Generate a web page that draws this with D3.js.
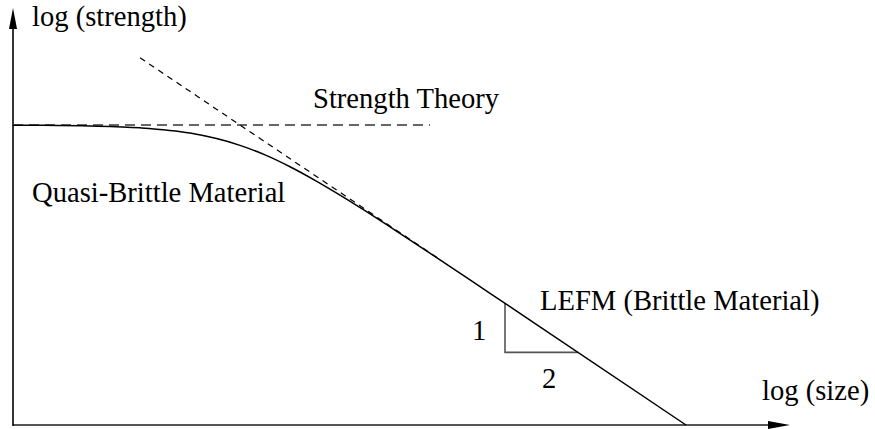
<!DOCTYPE html>
<html>
<head>
<meta charset="utf-8">
<script src="https://cdn.jsdelivr.net/npm/d3@7"></script>
<style>
  html, body { margin: 0; padding: 0; background: #fff; }
  svg { display: block; }
  text { font-family: "Liberation Serif", "Times New Roman", serif; font-size: 28.6px; fill: #000; }
</style>
</head>
<body>
<svg id="chart" width="875" height="429"></svg>
<script>
// Size-effect curve: log(size) vs log(strength)
const logSize     = [-2.27, -2.0, -1.5, -1.0, -0.5, 0.0, 0.25, 0.5, 0.75, 1.0, 1.25, 1.5, 2.0, 2.5, 3.0, 4.46];
const logStrength = [-0.001, -0.002, -0.007, -0.021, -0.060, -0.151, -0.222, -0.310, -0.411, -0.521, -0.637, -0.757, -1.002, -1.251, -1.500, -2.230];

// Strength theory (horizontal) and LEFM asymptote (slope -1/2)
const strengthTheoryX = [-2.27, 1.9];
const strengthTheoryY = [0, 0];
const lefmX = [-1.0, 2.0];
const lefmY = [0.5, -1.0];

// Slope triangle (rise 1, run 2)
const triX = [2.65, 2.65, 3.38];
const triY = [-1.325, -1.69, -1.69];

const labels = [
  { text: "log (strength)",          x: -2.08, y: 0.735 },
  { text: "Strength Theory",         x: 0.73,  y: 0.125 },
  { text: "Quasi-Brittle Material",  x: -2.08, y: -0.575 },
  { text: "LEFM (Brittle Material)", x: 3.00,  y: -1.375 },
  { text: "1",                       x: 2.32,  y: -1.60 },
  { text: "2",                       x: 3.02,  y: -1.955 },
  { text: "log (size)",              x: 5.22,  y: -2.045 }
];

const svg = d3.select("#chart");
const x = d3.scaleLinear().domain([-2.27, 5.52]).range([13, 792]);
const y = d3.scaleLinear().domain([-2.23, 0.87]).range([425, 8]);

const [x0, x1] = x.range();
const [y0, y1] = y.range();

// Axes with arrowheads
svg.append("line")
  .attr("x1", x0).attr("y1", y0).attr("x2", x1 - 22).attr("y2", y0)
  .attr("stroke", "#555").attr("stroke-width", 2);
svg.append("path")
  .attr("d", `M${x1 - 2},${y0} L${x1 - 24},${y0 - 4} L${x1 - 24},${y0 + 4} Z`)
  .attr("fill", "#000");
svg.append("line")
  .attr("x1", x0).attr("y1", y0 + 1).attr("x2", x0).attr("y2", y1 + 20)
  .attr("stroke", "#000").attr("stroke-width", 1.6);
svg.append("path")
  .attr("d", `M${x0},${y1} L${x0 - 4},${y1 + 21} L${x0 + 4},${y1 + 21} Z`)
  .attr("fill", "#000");

const line = d3.line().x(d => x(d[0])).y(d => y(d[1]));

// Strength theory
svg.append("path")
  .datum(d3.zip(strengthTheoryX, strengthTheoryY))
  .attr("d", line)
  .attr("fill", "none").attr("stroke", "#666").attr("stroke-width", 2)
  .attr("stroke-dasharray", "10,6");

// LEFM asymptote
svg.append("path")
  .datum(d3.zip(lefmX, lefmY))
  .attr("d", line)
  .attr("fill", "none").attr("stroke", "#000").attr("stroke-width", 1.2)
  .attr("stroke-dasharray", "6,5");

// Slope triangle
svg.append("path")
  .datum(d3.zip(triX, triY))
  .attr("d", line)
  .attr("fill", "none").attr("stroke", "#555").attr("stroke-width", 1.6);

// Size-effect curve
svg.append("path")
  .datum(d3.zip(logSize, logStrength))
  .attr("d", line.curve(d3.curveMonotoneX))
  .attr("fill", "none").attr("stroke", "#000").attr("stroke-width", 1.5);

svg.selectAll("text.label")
  .data(labels)
  .join("text")
  .attr("class", "label")
  .attr("x", d => x(d.x))
  .attr("y", d => y(d.y))
  .text(d => d.text);
</script>
</body>
</html>
